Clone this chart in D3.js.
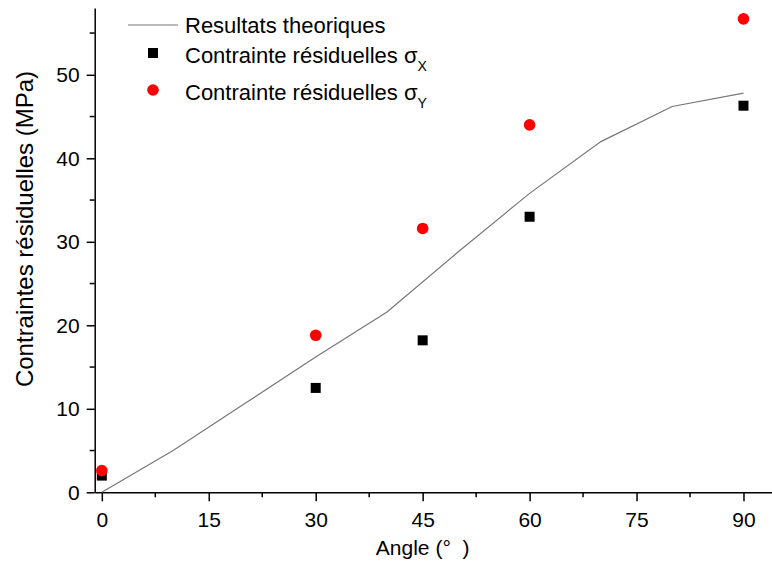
<!DOCTYPE html>
<html>
<head>
<meta charset="utf-8">
<script src="https://cdn.jsdelivr.net/npm/d3@7"></script>
<style>
  html, body { margin: 0; padding: 0; background: #fff; }
  svg { display: block; font-family: "Liberation Sans", Arial, sans-serif; }
</style>
</head>
<body>
<svg id="chart" width="772" height="562"></svg>
<script>
// ---- data ----
const theoryAngles = [0, 10, 20, 30, 40, 50, 60, 70, 80, 90];
const theoryValues = [0, 5.0, 10.6, 16.2, 21.6, 28.8, 35.8, 42.0, 46.2, 47.8];
const expAngles = [0, 30, 45, 60, 90];
const sigmaX = [2.0, 12.5, 18.2, 33.0, 46.3];
const sigmaY = [2.6, 18.8, 31.6, 44.0, 56.7];
const xTicks = [0, 15, 30, 45, 60, 75, 90];
const yTicks = [0, 10, 20, 30, 40, 50];
const legendLabels = ["Resultats theoriques", "Contrainte résiduelles ", "Contrainte résiduelles "];

// ---- layout ----
const svg = d3.select("#chart");
const x = d3.scaleLinear().domain([-1, 94]).range([94.7, 772]);
const y = d3.scaleLinear().domain([0, 58]).range([492.3, 8]);

const tickFont = 21;

// x axis
const xAxis = d3.axisBottom(x).tickValues(xTicks).tickSize(9).tickSizeOuter(0).tickPadding(6).tickFormat(d3.format("d"));
const gx = svg.append("g").attr("transform", `translate(0,${y(0)})`).call(xAxis);
const xMinor = d3.range(7.5, 94, 15);
gx.selectAll(".minor").data(xMinor).enter().append("line")
  .attr("x1", d => x(d)).attr("x2", d => x(d)).attr("y1", 0).attr("y2", 5)
  .attr("stroke", "#000").attr("stroke-width", 1.5);

// y axis
const yAxis = d3.axisLeft(y).tickValues(yTicks).tickSize(8).tickSizeOuter(0).tickPadding(7).tickFormat(d3.format("d"));
const gy = svg.append("g").attr("transform", `translate(${x(-1)},0)`).call(yAxis);
const yMinor = d3.range(5, 58, 10);
gy.selectAll(".minor").data(yMinor).enter().append("line")
  .attr("x1", 0).attr("x2", -5).attr("y1", d => y(d)).attr("y2", d => y(d))
  .attr("stroke", "#000").attr("stroke-width", 1.5);

[gx, gy].forEach(g => {
  g.select(".domain").attr("stroke", "#000").attr("stroke-width", 1.5);
  g.selectAll(".tick line").attr("stroke", "#000").attr("stroke-width", 1.5);
  g.selectAll(".tick text").attr("fill", "#000").style("font-size", tickFont + "px")
    .style("font-family", '"Liberation Sans", Arial, sans-serif');
});
gx.selectAll(".tick text").attr("dy", "0.95em");

// axis titles
svg.append("text").attr("x", x(45)).attr("y", 555).attr("text-anchor", "middle")
  .style("font-size", "21px").style("white-space", "pre").text("Angle (°  )");
svg.append("text").attr("transform", `translate(33,${229}) rotate(-90)`).attr("text-anchor", "middle")
  .style("font-size", "24px").text("Contraintes résiduelles (MPa)");

// theoretical line
const lineData = theoryAngles.map((a, i) => [a, theoryValues[i]]);
svg.append("path").datum(lineData)
  .attr("fill", "none").attr("stroke", "#777").attr("stroke-width", 1.2)
  .attr("d", d3.line().x(d => x(d[0])).y(d => y(d[1])));

// sigma X squares
const sq = 10;
svg.selectAll(".sx").data(expAngles.map((a, i) => [a, sigmaX[i]])).enter().append("rect")
  .attr("x", d => x(d[0]) - sq / 2).attr("y", d => y(d[1]) - sq / 2)
  .attr("width", sq).attr("height", sq).attr("fill", "#000");

// sigma Y circles
svg.selectAll(".sy").data(expAngles.map((a, i) => [a, sigmaY[i]])).enter().append("circle")
  .attr("cx", d => x(d[0])).attr("cy", d => y(d[1])).attr("r", 5.8).attr("fill", "#ff0000");

// legend
const lg = svg.append("g");
lg.append("line").attr("x1", 128).attr("x2", 178).attr("y1", 25).attr("y2", 25)
  .attr("stroke", "#777").attr("stroke-width", 1.2);
lg.append("rect").attr("x", 153 - sq / 2).attr("y", 53 - sq / 2).attr("width", sq).attr("height", sq).attr("fill", "#000");
lg.append("circle").attr("cx", 153).attr("cy", 90).attr("r", 5.8).attr("fill", "#ff0000");

const lf = 22;
lg.append("text").attr("x", 185).attr("y", 33).style("font-size", lf + "px").text(legendLabels[0]);
const subs = ["X", "Y"];
[63, 100].forEach((by, i) => {
  const t = lg.append("text").attr("x", 185).attr("y", by).style("font-size", lf + "px");
  t.append("tspan").text(legendLabels[i + 1]);
  t.append("tspan").text("σ");
  t.append("tspan").attr("dy", 8).style("font-size", "14px").text(subs[i]);
});
</script>
</body>
</html>
